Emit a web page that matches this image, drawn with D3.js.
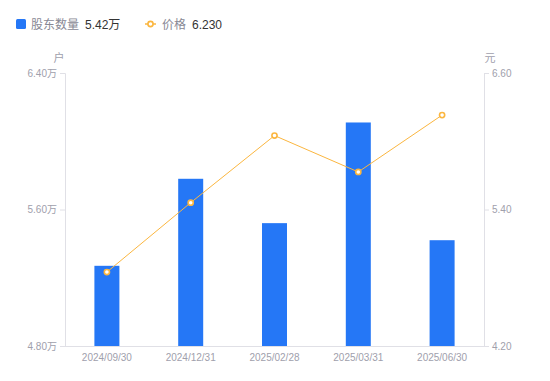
<html>
<head>
<meta charset="utf-8">
<title>股东数量与价格</title>
<style>
  body { margin: 0; background: #fff; }
  text { font-family: "Liberation Sans", "Noto Sans CJK SC", sans-serif; }
  .axis path, .axis line { stroke: #e0e0e6; }
  .axis text { fill: #a0a0ac; font-size: 10px; }
</style>
</head>
<body>
<script src="https://cdn.jsdelivr.net/npm/d3@7"></script>
<script>
// 数据
var dates = ["2024/09/30", "2024/12/31", "2025/02/28", "2025/03/31", "2025/06/30"];
var holders = [5.27, 5.78, 5.52, 6.11, 5.42];   // 万户
var prices = [4.85, 5.46, 6.05, 5.73, 6.23];    // 元
var leftTicks = [4.8, 5.6, 6.4];
var rightTicks = [4.2, 5.4, 6.6];

var width = 550, height = 381;
var margin = {top: 73, right: 66, bottom: 35, left: 65};

var svg = d3.select("body").append("svg")
  .attr("width", width)
  .attr("height", height);

var x = d3.scaleBand()
  .domain(dates)
  .range([margin.left, width - margin.right]);

var yL = d3.scaleLinear()
  .domain([4.8, 6.4])
  .range([height - margin.bottom, margin.top]);

var yR = d3.scaleLinear()
  .domain([4.2, 6.6])
  .range([height - margin.bottom, margin.top]);

// 坐标轴
svg.append("g")
  .attr("class", "axis")
  .attr("transform", "translate(" + margin.left + ",0)")
  .call(d3.axisLeft(yL).tickValues(leftTicks).tickSize(5).tickPadding(3)
    .tickFormat(function(d){ return d.toFixed(2) + "万"; }));

svg.append("g")
  .attr("class", "axis")
  .attr("transform", "translate(" + (width - margin.right) + ",0)")
  .call(d3.axisRight(yR).tickValues(rightTicks).tickSize(5).tickPadding(3)
    .tickFormat(function(d){ return d.toFixed(2); }));

svg.append("g")
  .attr("class", "axis")
  .attr("transform", "translate(0," + (height - margin.bottom) + ")")
  .call(d3.axisBottom(x).tickSize(0).tickPadding(8))
  .call(function(g){ g.select(".domain").attr("d", "M" + margin.left + ",0.5H" + (width - margin.right)); });

svg.selectAll(".axis .domain").attr("stroke", "#e0e0e6");

// 单位
svg.append("text").attr("x", 59).attr("y", 62).attr("text-anchor", "middle")
  .attr("fill", "#a0a0ac").style("font-size", "11px").text("户");
svg.append("text").attr("x", 490).attr("y", 62).attr("text-anchor", "middle")
  .attr("fill", "#a0a0ac").style("font-size", "11px").text("元");

// 柱子
var barW = 25;
svg.append("g").selectAll("rect")
  .data(holders)
  .enter()
  .append("rect")
  .attr("x", function(d, i){ return x(dates[i]) + x.bandwidth() / 2 - barW / 2; })
  .attr("y", function(d){ return yL(d); })
  .attr("width", barW)
  .attr("height", function(d){ return yL(4.8) - yL(d); })
  .attr("fill", "#2577f6");

// 价格折线
var line = d3.line()
  .x(function(d, i){ return x(dates[i]) + x.bandwidth() / 2; })
  .y(function(d){ return yR(d); });

svg.append("path")
  .datum(prices)
  .attr("d", line)
  .attr("fill", "none")
  .attr("stroke", "#fbb63f")
  .attr("stroke-width", 1);

svg.append("g").selectAll("circle")
  .data(prices)
  .enter()
  .append("circle")
  .attr("cx", function(d, i){ return x(dates[i]) + x.bandwidth() / 2; })
  .attr("cy", function(d){ return yR(d); })
  .attr("r", 2.6)
  .attr("fill", "#fff")
  .attr("stroke", "#fbb63f")
  .attr("stroke-width", 1.6);

// 图例
var lg = svg.append("g");
lg.append("rect").attr("x", 16).attr("y", 19).attr("width", 10).attr("height", 10)
  .attr("rx", 1.5).attr("fill", "#2577f6");
lg.append("text").attr("x", 31).attr("y", 28.5).attr("fill", "#888894")
  .style("font-size", "12px").text("股东数量");
lg.append("text").attr("x", 85).attr("y", 28.5).attr("fill", "#333")
  .style("font-size", "12px").text(d3.format(".2f")(holders[holders.length - 1]) + "万");

lg.append("line").attr("x1", 145).attr("x2", 156).attr("y1", 24).attr("y2", 24)
  .attr("stroke", "#fbb63f").attr("stroke-width", 1.5);
lg.append("circle").attr("cx", 150.5).attr("cy", 24).attr("r", 2.6)
  .attr("fill", "#fff").attr("stroke", "#fbb63f").attr("stroke-width", 1.6);
lg.append("text").attr("x", 162).attr("y", 28.5).attr("fill", "#888894")
  .style("font-size", "12px").text("价格");
lg.append("text").attr("x", 192).attr("y", 28.5).attr("fill", "#333")
  .style("font-size", "12px").text(d3.format(".3f")(prices[prices.length - 1]));
</script>
</body>
</html>
